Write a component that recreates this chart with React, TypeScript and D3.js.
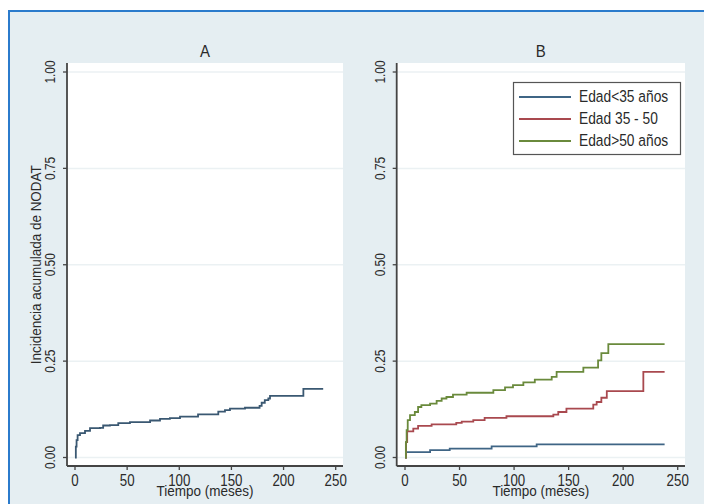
import React from "react";
import * as d3 from "d3";

const xTicks = [0, 50, 100, 150, 200, 250];
const yTicks = [0, 0.25, 0.5, 0.75, 1];
const panelTitles = ["A", "B"];
const xTitle = "Tiempo (meses)";
const yTitle = "Incidencia acumulada de NODAT";

// Panel A: overall cumulative incidence
const timesA = [0, 0.8, 1.5, 2.5, 4.8, 9.6, 14.4, 24, 27, 33.5, 41.5, 52.7, 72, 81.5, 91, 100.7, 118, 137.4, 143.8, 148.6, 163, 177, 179, 182, 185.4, 187, 219, 238];
const valuesA = [0, 0.028, 0.045, 0.058, 0.063, 0.069, 0.076, 0.077, 0.083, 0.084, 0.089, 0.092, 0.096, 0.1, 0.102, 0.106, 0.112, 0.119, 0.123, 0.127, 0.129, 0.134, 0.142, 0.149, 0.153, 0.16, 0.178, 0.178];

// Panel B: by age group
const seriesNames = ["Edad<35 años", "Edad 35 - 50", "Edad>50 años"];
const timesB1 = [0, 1, 23, 41, 79.4, 120.7, 238];
const valuesB1 = [0, 0.014, 0.019, 0.023, 0.029, 0.034, 0.034];
const timesB2 = [0, 1, 2, 7.6, 12, 24.4, 47, 52, 62.6, 73, 93, 136, 140.5, 148, 172.6, 175.7, 180, 185, 218.5, 238];
const valuesB2 = [0, 0.04, 0.068, 0.075, 0.082, 0.086, 0.09, 0.093, 0.097, 0.103, 0.107, 0.111, 0.118, 0.127, 0.137, 0.144, 0.155, 0.172, 0.222, 0.222];
const timesB3 = [0, 0.8, 1.5, 2.5, 4.6, 9, 12, 15, 23, 29, 33.6, 38, 44, 56.5, 81, 91.7, 99, 108.5, 119, 134.5, 139, 163.5, 177, 180, 186.4, 238];
const valuesB3 = [0, 0.04, 0.071, 0.097, 0.11, 0.118, 0.131, 0.136, 0.14, 0.147, 0.153, 0.157, 0.163, 0.168, 0.175, 0.182, 0.188, 0.195, 0.202, 0.209, 0.222, 0.233, 0.252, 0.271, 0.294, 0.294];

const FONT = "'Liberation Sans', Arial, sans-serif";
const BG = "#e5eef2";
const AXIS = "#444";
const GRID = "#ebf1f3";
const TXT = "#2a2a2a";

type Series = { t: number[]; v: number[]; color: string };

function Panel({ title, left, right, x0, x1, series, showYTitle, legend }: {
  title: string; left: number; right: number; x0: number; x1: number;
  series: Series[]; showYTitle: boolean; legend: boolean;
}) {
  const top = 63, bottom = 466;
  const x = d3.scaleLinear().domain([0, 250]).range([x0, x1]);
  const y = d3.scaleLinear().domain([0, 1]).range([457.5, 72]);
  const line = d3.line<[number, number]>().x(d => x(d[0])).y(d => y(d[1])).curve(d3.curveStepAfter);
  const cx = (left + right) / 2;
  const fmt = d3.format(".2f");
  return (
    <g>
      <rect x={left} y={top} width={right - left} height={bottom - top} fill="#fff" />
      {yTicks.map(t => (
        <line key={"g" + t} x1={left} x2={right} y1={y(t)} y2={y(t)} stroke={GRID} strokeWidth={1.5} />
      ))}
      {series.map((s, i) => (
        <path key={i} d={line(s.t.map((tt, j) => [tt, s.v[j]]) as [number, number][]) || ""} fill="none" stroke={s.color} strokeWidth={1.8} />
      ))}
      <line x1={left} x2={left} y1={top} y2={bottom} stroke={AXIS} strokeWidth={1.8} />
      <line x1={left} x2={right} y1={bottom} y2={bottom} stroke={AXIS} strokeWidth={1.8} />
      {yTicks.map(t => (
        <g key={"y" + t}>
          <line x1={left - 4} x2={left} y1={y(t)} y2={y(t)} stroke={AXIS} strokeWidth={1.3} />
          <text transform={`translate(${left - 12},${y(t)}) rotate(-90) scale(0.92,1.15)`} textAnchor="middle" fontFamily={FONT} fontSize={13} fill={TXT}>{fmt(t)}</text>
        </g>
      ))}
      {xTicks.map(t => (
        <g key={"x" + t}>
          <line x1={x(t)} x2={x(t)} y1={bottom} y2={bottom + 4} stroke={AXIS} strokeWidth={1.3} />
          <text transform={`translate(${x(t)},486) scale(0.95,1.12)`} textAnchor="middle" fontFamily={FONT} fontSize={14} fill={TXT}>{t}</text>
        </g>
      ))}
      <text transform={`translate(${cx},496) scale(1,1.05)`} textAnchor="middle" fontFamily={FONT} fontSize={13.5} fill={TXT}>{xTitle}</text>
      <text transform={`translate(${cx},57) scale(1,1.1)`} textAnchor="middle" fontFamily={FONT} fontSize={15} fill={TXT}>{title}</text>
      {showYTitle && (
        <text transform={`translate(41,${(72 + 457.5) / 2}) rotate(-90) scale(1,1.05)`} textAnchor="middle" fontFamily={FONT} fontSize={13.5} fill={TXT}>{yTitle}</text>
      )}
      {legend && (
        <g>
          <rect x={513.5} y={82.5} width={167} height={72} fill="#fff" stroke="#555" strokeWidth={1.2} />
          {series.map((s, i) => (
            <g key={"l" + i}>
              <line x1={519} x2={571} y1={97 + i * 22} y2={97 + i * 22} stroke={s.color} strokeWidth={1.8} />
              <text transform={`translate(579,${102 + i * 22}) scale(0.95,1.12)`} fontFamily={FONT} fontSize={14.5} fill={TXT}>{seriesNames[i]}</text>
            </g>
          ))}
        </g>
      )}
    </g>
  );
}

export default function App() {
  const seriesA: Series[] = [{ t: timesA, v: valuesA, color: "#3a5872" }];
  const seriesB: Series[] = [
    { t: timesB1, v: valuesB1, color: "#3f6585" },
    { t: timesB2, v: valuesB2, color: "#a9494f" },
    { t: timesB3, v: valuesB3, color: "#6a8a3c" },
  ];
  return (
    <svg width={704} height={504} style={{ position: "absolute", left: 0, top: 0 }}>
      <rect x={0} y={0} width={704} height={504} fill="#fff" />
      <rect x={9} y={11} width={700} height={500} fill={BG} stroke="#2b7bcc" strokeWidth={2} />
      <Panel title={panelTitles[0]} left={67} right={343} x0={75} x1={335.7} series={seriesA} showYTitle={true} legend={false} />
      <Panel title={panelTitles[1]} left={396.7} right={685} x0={405} x1={677.7} series={seriesB} showYTitle={false} legend={true} />
    </svg>
  );
}
